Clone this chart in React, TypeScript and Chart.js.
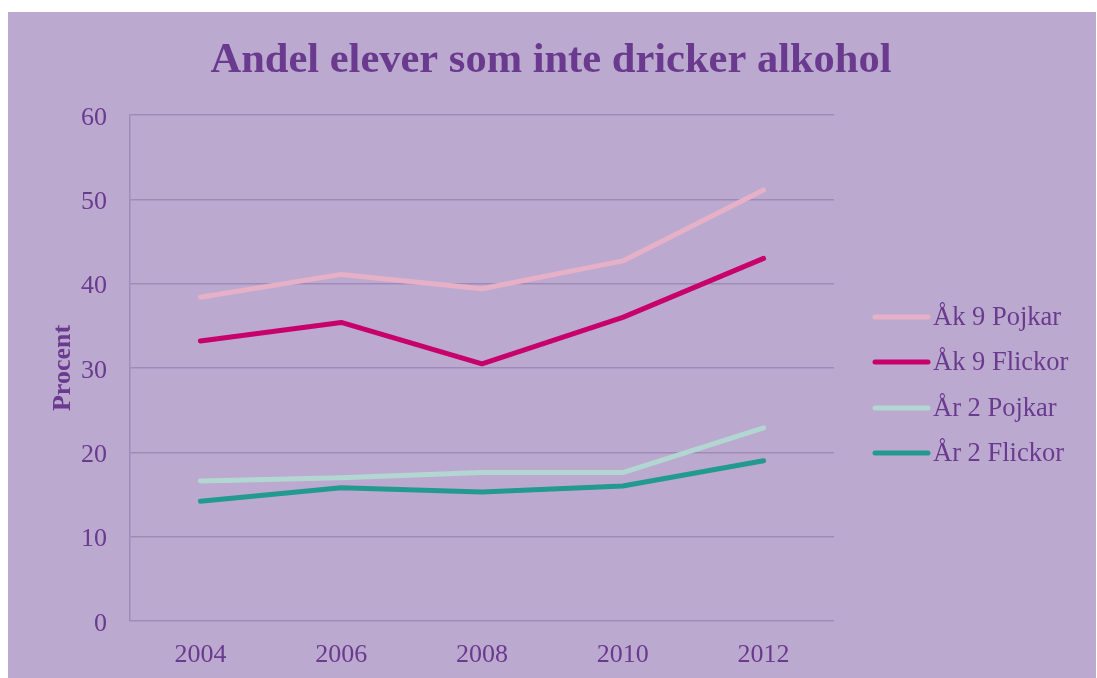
import React, { useEffect, useRef } from "react";
import { Chart, registerables } from "chart.js";

Chart.register(...registerables);

const years = ["2004", "2006", "2008", "2010", "2012"];
const ak9Pojkar = [38.4, 41.1, 39.4, 42.7, 51.1];
const ak9Flickor = [33.2, 35.4, 30.5, 36.0, 43.0];
const ar2Pojkar = [16.6, 17.0, 17.6, 17.6, 22.9];
const ar2Flickor = [14.2, 15.8, 15.3, 16.0, 19.0];
const seriesLabels = ["Åk 9 Pojkar", "Åk 9 Flickor", "År 2 Pojkar", "År 2 Flickor"];
const seriesColors = ["#E6B0C6", "#C8006B", "#B2D7D2", "#229A8E"];
const titleText = "Andel elever som inte dricker alkohol";

const BG = "#BCA9D0";
const TEXT = "#6A3A8E";
const GRID = "#9F8BB8";
const FONT = "'Liberation Serif', 'Times New Roman', serif";

const decorPlugin = {
  id: "decor",
  afterDraw(chart: any) {
    const ctx = chart.ctx;
    const area = chart.chartArea;
    ctx.save();
    // title
    ctx.fillStyle = TEXT;
    ctx.font = `bold 42.5px ${FONT}`;
    ctx.textAlign = "center";
    ctx.textBaseline = "alphabetic";
    ctx.fillText(titleText, 543, 60);
    // legend
    const x0 = area.right + 39;
    const rows = [305, 350, 396, 441];
    chart.data.datasets.forEach((ds: any, i: number) => {
      const y = rows[i];
      ctx.strokeStyle = ds.borderColor;
      ctx.lineWidth = 5;
      ctx.lineCap = "round";
      ctx.beginPath();
      ctx.moveTo(x0 + 2, y);
      ctx.lineTo(x0 + 55, y);
      ctx.stroke();
      ctx.fillStyle = TEXT;
      ctx.font = `26.5px ${FONT}`;
      ctx.textBaseline = "middle";
      ctx.textAlign = "left";
      ctx.fillText(ds.label, x0 + 60, y + 1);
    });
    ctx.restore();
  },
};

export default function App() {
  const ref = useRef<HTMLCanvasElement | null>(null);

  useEffect(() => {
    if (!ref.current) return;
    const data = [ak9Pojkar, ak9Flickor, ar2Pojkar, ar2Flickor];
    const chart = new Chart(ref.current, {
      type: "line",
      data: {
        labels: years,
        datasets: data.map((d, i) => ({
          label: seriesLabels[i],
          data: d,
          borderColor: seriesColors[i],
          backgroundColor: seriesColors[i],
          borderWidth: 5,
          borderCapStyle: "round",
          borderJoinStyle: "round",
          pointRadius: 0,
          tension: 0,
          fill: false,
        })),
      },
      options: {
        animation: false,
        responsive: false,
        maintainAspectRatio: false,
        layout: { padding: { top: 103, right: 262, bottom: 0, left: 0 } },
        plugins: {
          legend: { display: false },
          tooltip: { enabled: false },
          title: { display: false },
        },
        scales: {
          x: {
            type: "category",
            offset: true,
            afterFit: (scale: any) => {
              scale.height = 57;
            },
            grid: { display: false, drawTicks: false },
            border: { display: false },
            ticks: {
              color: TEXT,
              padding: 19,
              font: { family: FONT, size: 26 },
              maxRotation: 0,
            },
          },
          y: {
            min: 0,
            max: 60,
            afterFit: (scale: any) => {
              scale.width = 122;
            },
            grid: { color: GRID, lineWidth: 1.5, drawTicks: false },
            border: { display: true, color: GRID, width: 1.5 },
            ticks: {
              stepSize: 10,
              color: TEXT,
              padding: 23,
              labelOffset: 3,
              font: { family: FONT, size: 26 },
            },
            title: {
              display: true,
              text: "Procent",
              color: TEXT,
              font: { family: FONT, size: 26, weight: "bold", lineHeight: 1.2 },
              padding: { top: 40, bottom: 0 },
            },
          },
        },
      },
      plugins: [decorPlugin],
    });
    return () => chart.destroy();
  }, []);

  return (
    <div style={{ position: "absolute", left: 8, top: 12, width: 1088, height: 666, background: BG }}>
      <canvas ref={ref} width={1088} height={666} style={{ display: "block" }} />
    </div>
  );
}
